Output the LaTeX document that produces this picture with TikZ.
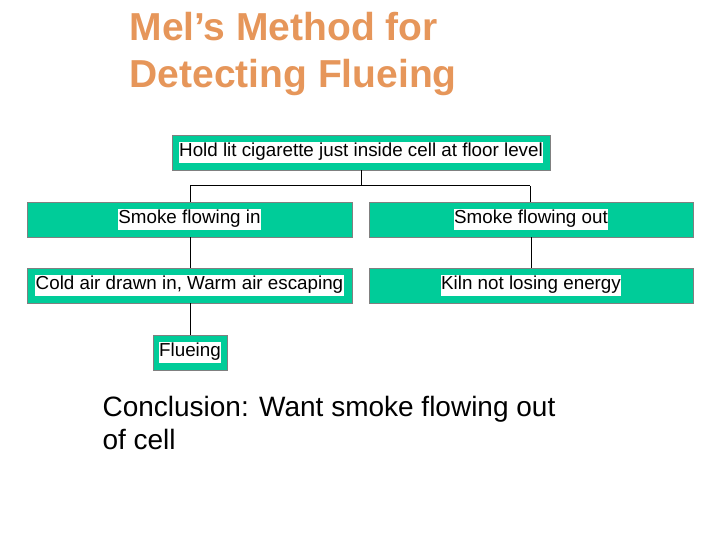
\documentclass[tikz,border=0pt]{standalone}
\usepackage{fontspec}
\setmainfont{Liberation Sans}
\definecolor{boxgreen}{RGB}{0,204,153}
\definecolor{titleorange}{RGB}{230,150,90}
\newcommand{\wbg}[1]{{\setlength{\fboxsep}{0.5pt}\colorbox{white}{\strut #1}}}
\tikzset{
  stepbox/.style={draw=gray, line width=0.8pt, fill=boxgreen, minimum height=35pt,
    inner sep=0pt, font=\fontsize{18.8}{20}\selectfont},
  link/.style={line width=1pt}
}
\begin{document}
\begin{tikzpicture}[x=1pt,y=-1pt]
  \useasboundingbox (0,0) rectangle (720,540);
  \node[anchor=west, align=left, text=titleorange, font=\bfseries\fontsize{39}{47}\selectfont] (title) at (126,54) {Mel's Method for\\Detecting Flueing};
  \node[stepbox, minimum width=378pt] (hold) at (361,152.5) {\wbg{Hold lit cigarette just inside cell at floor level}};
  \node[stepbox, minimum width=325pt] (smin) at (189.5,219.5) {\wbg{Smoke flowing in}};
  \node[stepbox, minimum width=324pt] (smout) at (531,219.5) {\wbg{Smoke flowing out}};
  \node[stepbox, minimum width=325pt] (cold) at (189.5,285.5) {\wbg{Cold air drawn in, Warm air escaping}};
  \node[stepbox, minimum width=324pt] (kiln) at (531,285.5) {\wbg{Kiln not losing energy}};
  \node[stepbox, minimum width=74pt] (flue) at (190,352.5) {\wbg{Flueing}};
  \coordinate (split) at (361,186);
  \draw[link] (hold.south) -- (split);
  \draw[link] (190,186) -- (530,186);
  \draw[link] (190,186) -- (190,202);
  \draw[link] (530,186) -- (530,202);
  \draw[link] (smin.south -| flue.north) -- (cold.north -| flue.north);
  \draw[link] (smout.south) -- (kiln.north);
  \draw[link] (cold.south -| flue.north) -- (flue.north);
  \node[anchor=west, align=left, font=\fontsize{28}{33}\selectfont] (concl) at (99,423) {Conclusion: Want smoke flowing out\\of cell};
\end{tikzpicture}
\end{document}
